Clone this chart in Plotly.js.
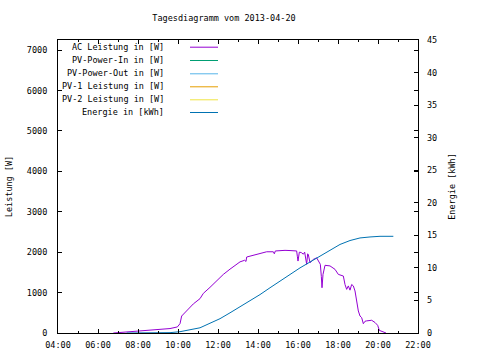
<!DOCTYPE html>
<html>
<head>
<meta charset="utf-8">
<script src="https://cdn.plot.ly/plotly-3.0.1.min.js"></script>
<style>html,body{margin:0;padding:0;background:#fff}#chart{width:480px;height:360px}</style>
</head>
<body>
<div id="chart"></div>
<script>
var DAY = '2013-04-20 ';

// AC Leistung in [W]
var acTimes = ['06:46','07:06','07:26','07:46','08:06','08:36','09:06','09:36','09:58','10:00','10:06','10:11','10:21','10:36','10:46','11:06','11:16','11:36','11:56','12:16','12:36','12:56','13:06','13:20','13:24','13:26','13:36','13:56','14:16','14:26','14:46','14:49','14:52','15:06','15:21','15:36','15:56','15:58','16:00','16:04','16:10','16:16','16:20','16:26','16:29','16:31','16:36','16:46','16:56','17:04','17:07','17:10','17:12','17:15','17:21','17:36','17:51','18:01','18:16','18:21','18:26','18:31','18:36','18:41','18:46','18:51','18:56','19:01','19:06','19:11','19:16','19:21','19:26','19:41','19:51','19:59','20:04','20:16','20:24'];
var acVals  = [0,15,30,40,50,65,90,110,150,170,230,420,500,630,720,850,980,1130,1300,1450,1580,1690,1760,1800,1770,1880,1900,1950,1990,2010,2010,1960,2030,2040,2045,2040,2030,1900,1780,2000,1990,1950,2000,1700,1960,1940,1740,1820,1860,1760,1700,1400,1120,1450,1675,1660,1575,1450,1410,1200,1080,1165,1060,1200,1165,1040,790,545,420,380,230,290,300,315,260,190,65,30,0];

// PV series without visible data
var pvInTimes = [], pvInVals = [];
var pvOutTimes = [], pvOutVals = [];
var pv1Times = [], pv1Vals = [];
var pv2Times = [], pv2Vals = [];

// Energie in [kWh]
var enTimes = ['07:26','08:06','08:46','09:26','09:36','10:06','10:36','11:06','11:36','12:06','12:36','13:06','13:36','14:06','14:36','15:06','15:36','16:06','16:36','17:06','17:36','18:06','18:36','19:06','19:36','20:06','20:46'];
var enVals  = [0,0,0,0,0.05,0.2,0.45,0.8,1.5,2.2,3.1,4.0,4.9,5.9,6.95,7.98,9.0,10.0,10.9,11.8,12.7,13.6,14.2,14.6,14.75,14.85,14.85];

var legendLabels = ['AC Leistung in [W]','PV-Power-In in [W]','PV-Power-Out in [W]','PV-1 Leistung in [W]','PV-2 Leistung in [W]','Energie in [kWh]'];
var colors = ['#9400d3','#009e73','#56b4e9','#e69f00','#f0e442','#0072b2'];
var titleText = 'Tagesdiagramm vom 2013-04-20';
var xTickRange = ['04:00','22:00'];

function ts(a){ return a.map(function(t){ return DAY + t; }); }

var FONT = 'DejaVu Sans Mono';
var series = [
  [acTimes, acVals, 'y'],
  [pvInTimes, pvInVals, 'y'],
  [pvOutTimes, pvOutVals, 'y'],
  [pv1Times, pv1Vals, 'y'],
  [pv2Times, pv2Vals, 'y'],
  [enTimes, enVals, 'y2']
];
var traces = series.map(function(s, i){
  return {x: ts(s[0]), y: s[1], yaxis: s[2], type: 'scatter', mode: 'lines',
          line: {color: colors[i], width: 1}, name: legendLabels[i], showlegend: false};
});

var L = 58, R = 418, T = 40, B = 333, W = 480, H = 360;
function px(x){ return (x - L) / (R - L); }
function py(y){ return (B - y) / (B - T); }

var rowsY = [46.7, 60, 73.3, 86.3, 99.3, 112];
var annotations = [], shapes = [];
legendLabels.forEach(function(lab, i){
  annotations.push({xref: 'paper', yref: 'paper', x: px(166), y: py(rowsY[i]), xanchor: 'right', yanchor: 'middle',
    text: lab, showarrow: false, font: {family: FONT, size: 8.5, color: '#000'}});
  shapes.push({type: 'line', xref: 'paper', yref: 'paper', x0: px(190), x1: px(218), y0: py(rowsY[i]+0.5), y1: py(rowsY[i]+0.5),
    line: {color: colors[i], width: 1}});
});

var layout = {
  width: W, height: H,
  margin: {l: L, r: W - R, t: T, b: H - B, pad: 0},
  paper_bgcolor: '#fff', plot_bgcolor: '#fff',
  font: {family: FONT, size: 8.5, color: '#000'},
  showlegend: false,
  title: {text: titleText, x: 224 / W, xanchor: 'center', y: 1 - 18 / H, yanchor: 'middle', font: {family: FONT, size: 8.5, color: '#000'}},
  xaxis: {type: 'date', range: [DAY + xTickRange[0], DAY + xTickRange[1]], tick0: DAY + '00:00', dtick: 7200000,
    tickformat: '%H:%M', ticks: 'inside', ticklen: 4, tickcolor: '#000', showline: true, linecolor: '#000', linewidth: 1,
    mirror: 'ticks', showgrid: false, zeroline: false, ticklabelstandoff: 4,
    minor: {dtick: 3600000, tick0: DAY + '00:00', ticks: 'inside', ticklen: 2, tickcolor: '#000', showgrid: false}},
  yaxis: {range: [0, 7250], dtick: 1000, ticks: 'inside', ticklen: 4, tickcolor: '#000', showline: true, linecolor: '#000',
    linewidth: 1, mirror: 'ticks', showgrid: false, zeroline: false, ticklabelstandoff: 8,
    title: {text: 'Leistung [W]', standoff: 12, font: {family: FONT, size: 8.5}}},
  yaxis2: {range: [0, 45], dtick: 5, overlaying: 'y', side: 'right', ticks: 'inside', ticklen: 4, tickcolor: '#000',
    showline: false, showgrid: false, zeroline: false, ticklabelstandoff: 8,
    title: {text: 'Energie [kWh]', standoff: 12, font: {family: FONT, size: 8.5}}},
  annotations: annotations,
  shapes: shapes
};

Plotly.newPlot('chart', traces, layout, {displayModeBar: false, staticPlot: true});
</script>
</body>
</html>
